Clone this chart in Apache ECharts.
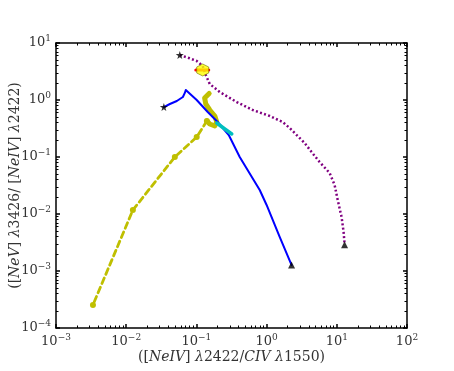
<!DOCTYPE html>
<html>
<head>
<meta charset="utf-8">
<script src="https://cdn.jsdelivr.net/npm/echarts@6/dist/echarts.min.js"></script>
<style>
  html, body { margin: 0; padding: 0; background: #fff; }
  #chart { width: 454px; height: 371px; }
</style>
</head>
<body>
<div id="chart"></div>
<script>
// tick labels (decades)
const xDecades = [0.001, 0.01, 0.1, 1, 10, 100]
const yDecades = [0.0001, 0.001, 0.01, 0.1, 1, 10]

// purple dotted track (star -> triangle)
const purpleTrack = [
  [0.058, 6.16], [0.078, 5.45], [0.101, 4.83], [0.123, 3.95], [0.136, 2.75],
  [0.155, 1.91], [0.215, 1.38], [0.376, 0.92], [0.634, 0.668], [1.107, 0.524],
  [1.69, 0.411], [2.13, 0.323], [2.68, 0.243], [3.48, 0.176], [4.38, 0.122],
  [5.69, 0.0817], [7.9, 0.0524], [9.31, 0.0323], [10.3, 0.0176], [11.7, 0.00886],
  [12.5, 0.00483], [12.9, 0.00298]
]

// blue solid track
const blueTrack = [
  [0.0344, 0.753], [0.0419, 0.851], [0.0526, 0.96], [0.0642, 1.13], [0.0684, 1.33],
  [0.0706, 1.5], [0.101, 1.0], [0.145, 0.616], [0.201, 0.411], [0.289, 0.243],
  [0.414, 0.1], [0.798, 0.0264], [1.0, 0.0144], [1.535, 0.00395], [2.27, 0.00127]
]

// cyan short segment
const cyanTrack = [[0.195, 0.395], [0.254, 0.31], [0.319, 0.253]]

// thick olive "S" curve
const oliveCurl = [
  [0.152, 1.3], [0.145, 1.27], [0.131, 1.08], [0.136, 0.851], [0.155, 0.668], [0.183, 0.524],
  [0.195, 0.411], [0.183, 0.35], [0.155, 0.379], [0.141, 0.428]
]

// olive dashed track with dot markers
const oliveDashed = [
  [0.141, 0.428], [0.101, 0.224], [0.0493, 0.1], [0.01245, 0.01175], [0.00336, 0.000254]
]

// start / end markers
const starPoints = [[0.058, 6.16], [0.0344, 0.753]]
const trianglePoints = [[12.9, 0.0029], [2.27, 0.00127]]

// observed point with x error bar
const obsPoint = [[0.123, 3.36]]
const obsErrX = [[0.098, 3.36], [0.150, 3.36]]

const chart = echarts.init(document.getElementById('chart'))

const serif = 'DejaVu Serif'
const textColor = '#333'
const STAR = 'path://M0,-10 L2.35,-3.24 L9.51,-3.09 L3.8,1.24 L5.88,8.09 L0,4 L-5.88,8.09 L-3.8,1.24 L-9.51,-3.09 L-2.35,-3.24 Z'
const HEX = 'path://M0,-10 L8.66,-5 L8.66,5 L0,10 L-8.66,5 L-8.66,-5 Z'

function minorsOf(decades) {
  const out = []
  for (let i = 0; i < decades.length - 1; i++) {
    for (let k = 2; k <= 9; k++) out.push(+(decades[i] * k).toPrecision(3))
  }
  return out
}

const supRich = {
  b: { fontFamily: serif, fontSize: 13, color: textColor },
  sup: { fontFamily: serif, fontSize: 9, color: textColor, padding: [0, 0, 8, 0] },
}

function fmt(v) {
  const e = Math.round(Math.log10(v))
  return '{b|10}{sup|' + String(e).replace('-', '\u2212') + '}'
}

function makeAxis(position, decades, opts) {
  const base = {
    type: 'log',
    logBase: 10,
    position,
    min: decades[0],
    max: decades[decades.length - 1],
    splitLine: { show: false },
  }
  const major = Object.assign({}, base, {
    axisLine: { show: true, lineStyle: { color: '#000', width: 1.5 } },
    axisTick: { show: true, inside: true, length: 4, customValues: decades, lineStyle: { color: '#000', width: 1.5 } },
    axisLabel: opts.labels
      ? { show: true, customValues: decades, formatter: fmt, rich: supRich, margin: 5 }
      : { show: false },
  }, opts.extra || {})
  const minor = Object.assign({}, base, {
    axisLine: { show: false },
    axisTick: { show: true, inside: true, length: 2.5, customValues: minorsOf(decades), lineStyle: { color: '#000', width: 1 } },
    axisLabel: { show: false },
  })
  return [major, minor]
}

const xAxes = [
  ...makeAxis('bottom', xDecades, {
    labels: true,
    extra: {
      name: '([{i|NeIV}] {i|\u03bb}2422/{i|CIV \u03bb}1550)',
      nameLocation: 'middle',
      nameGap: 22,
      nameMoveOverlap: false,
      nameTextStyle: {
        fontFamily: serif, fontSize: 14, color: textColor,
        rich: { i: { fontFamily: serif, fontStyle: 'italic', fontSize: 14, color: textColor } },
      },
    },
  }),
  ...makeAxis('top', xDecades, { labels: false }),
]

const yAxes = [
  ...makeAxis('left', yDecades, {
    labels: true,
    extra: {
      name: '([{i|NeV}] {i|\u03bb}3426/ [{i|NeIV}] {i|\u03bb}2422)',
      nameLocation: 'middle',
      nameGap: 34,
      nameMoveOverlap: false,
      nameTextStyle: {
        fontFamily: serif, fontSize: 14, color: textColor,
        rich: { i: { fontFamily: serif, fontStyle: 'italic', fontSize: 14, color: textColor } },
      },
    },
  }),
  ...makeAxis('right', yDecades, { labels: false }),
]

function lineSeries(data, color, width, type, z) {
  return {
    type: 'line',
    data,
    symbol: 'none',
    smooth: false,
    z,
    lineStyle: { color, width, type, cap: 'round', join: 'round' },
    silent: true,
  }
}

chart.setOption({
  animation: false,
  backgroundColor: '#fff',
  grid: { left: 56, top: 43, right: 47, bottom: 43, containLabel: false, outerBoundsMode: 'none' },
  xAxis: xAxes,
  yAxis: yAxes,
  series: [
    lineSeries(oliveCurl, '#bfbf00', 5, 'solid', 2),
    Object.assign(lineSeries(oliveDashed, '#bfbf00', 2.8, [6, 4], 2), {
      symbol: 'circle', symbolSize: 6, showSymbol: true,
      itemStyle: { color: '#bfbf00' },
    }),
    lineSeries(blueTrack, '#0000ff', 2, 'solid', 3),
    lineSeries(cyanTrack, '#00bfbf', 3.5, 'solid', 4),
    Object.assign(lineSeries(purpleTrack, '#800080', 2.5, [2, 2.3], 5), { lineStyle: { color: '#800080', width: 2.5, type: [2, 2.3], cap: 'butt' } }),
    lineSeries(obsErrX, '#ff0000', 3, 'solid', 6),
    {
      type: 'scatter', data: obsPoint, symbol: HEX, symbolSize: 12, z: 7, silent: true,
      itemStyle: { color: '#ffff00', borderColor: '#777700', borderWidth: 0.8 },
    },
    {
      type: 'scatter', data: starPoints, symbol: STAR, symbolSize: 8, z: 8, silent: true,
      itemStyle: { color: '#000' },
    },
    {
      type: 'scatter', data: trianglePoints, symbol: 'triangle', symbolSize: 7, z: 8, silent: true,
      itemStyle: { color: '#000' },
    },
  ],
})
</script>
</body>
</html>
